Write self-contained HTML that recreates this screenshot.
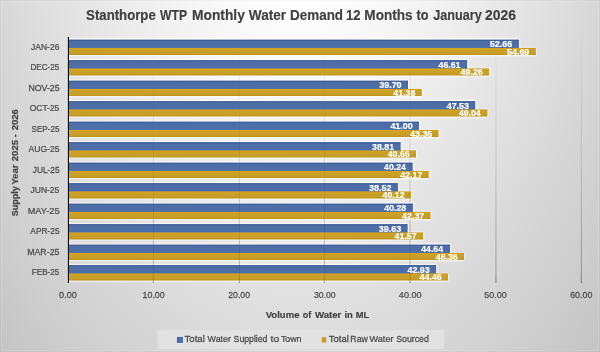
<!DOCTYPE html>
<html><head><meta charset="utf-8"><style>
html,body{margin:0;padding:0;width:600px;height:352px;overflow:hidden;background:#d9d9d9}
svg{display:block;will-change:transform}
text{font-family:"Liberation Sans",sans-serif}
.rg{stroke:#4a4a4a;stroke-width:0.25px}
.bd{stroke:#404040;stroke-width:0.15px}
.dl{stroke:#ffffff;stroke-width:0.2px}
</style></head><body>
<svg width="600" height="352" viewBox="0 0 600 352">
<defs>
<radialGradient id="bg" cx="299" cy="-182" r="600" gradientUnits="userSpaceOnUse" gradientTransform="translate(299 -182) scale(1 1.786) translate(-299 182)">
<stop offset="0" stop-color="#ffffff"/>
<stop offset="0.159" stop-color="#ffffff"/>
<stop offset="1" stop-color="#a5a5a5"/>
</radialGradient>
<linearGradient id="gb" x1="0" y1="0" x2="0" y2="1">
<stop offset="0" stop-color="#3f5e98"/>
<stop offset="0.2" stop-color="#4d6da6"/>
<stop offset="0.75" stop-color="#4e6fa8"/>
<stop offset="1" stop-color="#4670b8"/>
</linearGradient>
<linearGradient id="gg" x1="0" y1="0" x2="0" y2="1">
<stop offset="0" stop-color="#d2a222"/>
<stop offset="0.35" stop-color="#cba026"/>
<stop offset="0.8" stop-color="#c69d28"/>
<stop offset="1" stop-color="#c29822"/>
</linearGradient>
<filter id="glow" x="-5%" y="-50%" width="110%" height="200%">
<feGaussianBlur stdDeviation="1.3"/>
</filter>
<filter id="usm" x="-10" y="-10" width="620" height="372" filterUnits="userSpaceOnUse" color-interpolation-filters="sRGB">
<feGaussianBlur in="SourceGraphic" stdDeviation="1.0" result="b"/>
<feComposite in="SourceGraphic" in2="b" operator="arithmetic" k1="0" k2="1.15" k3="-0.15" k4="0"/>
</filter>
</defs>
<g filter="url(#usm)">
<rect x="-10" y="-10" width="620" height="372" fill="url(#bg)"/>
<defs><linearGradient id="gl" gradientUnits="userSpaceOnUse" x1="0" y1="37.0" x2="0" y2="283.0"><stop offset="0" stop-color="#000" stop-opacity="0.01"/><stop offset="0.5" stop-color="#000" stop-opacity="0.07"/><stop offset="0.95" stop-color="#000" stop-opacity="0.18"/><stop offset="1" stop-color="#000" stop-opacity="0.28"/></linearGradient></defs>
<rect x="152.90" y="37.0" width="1" height="246.0" fill="url(#gl)"/>
<rect x="238.90" y="37.0" width="1" height="246.0" fill="url(#gl)"/>
<rect x="323.90" y="37.0" width="1" height="246.0" fill="url(#gl)"/>
<rect x="409.50" y="37.0" width="1" height="246.0" fill="url(#gl)"/>
<rect x="495.45" y="37.0" width="1" height="246.0" fill="url(#gl)"/>
<rect x="580.83" y="37.0" width="1" height="246.0" fill="url(#gl)"/>
<path d="M68.4 38.60 H519.40 V47.90 H536.30 V56.00 H68.4 Z" fill="#ffffff" opacity="0.7" filter="url(#glow)"/>
<path d="M68.4 59.10 H467.60 V68.40 H489.50 V76.50 H68.4 Z" fill="#ffffff" opacity="0.7" filter="url(#glow)"/>
<path d="M68.4 79.60 H408.50 V88.90 H422.25 V97.00 H68.4 Z" fill="#ffffff" opacity="0.7" filter="url(#glow)"/>
<path d="M68.4 100.10 H475.70 V109.40 H487.90 V117.50 H68.4 Z" fill="#ffffff" opacity="0.7" filter="url(#glow)"/>
<path d="M68.4 120.60 H419.40 V129.90 H439.00 V138.00 H68.4 Z" fill="#ffffff" opacity="0.7" filter="url(#glow)"/>
<path d="M68.4 141.10 H401.15 V150.40 H416.50 V158.50 H68.4 Z" fill="#ffffff" opacity="0.7" filter="url(#glow)"/>
<path d="M68.4 161.60 H413.20 V170.90 H429.20 V179.00 H68.4 Z" fill="#ffffff" opacity="0.7" filter="url(#glow)"/>
<path d="M68.4 182.10 H398.40 V191.40 H411.40 V199.50 H68.4 Z" fill="#ffffff" opacity="0.7" filter="url(#glow)"/>
<path d="M68.4 202.60 H413.40 V211.90 H431.00 V220.00 H68.4 Z" fill="#ffffff" opacity="0.7" filter="url(#glow)"/>
<path d="M68.4 223.10 H408.10 V232.40 H423.50 V240.50 H68.4 Z" fill="#ffffff" opacity="0.7" filter="url(#glow)"/>
<path d="M68.4 243.60 H450.50 V252.90 H464.60 V261.00 H68.4 Z" fill="#ffffff" opacity="0.7" filter="url(#glow)"/>
<path d="M68.4 264.10 H436.60 V273.40 H448.50 V281.50 H68.4 Z" fill="#ffffff" opacity="0.7" filter="url(#glow)"/>
<rect x="68.9" y="39.60" width="450.00" height="9.30" fill="url(#gb)"/>
<rect x="68.9" y="47.90" width="466.90" height="7.10" fill="url(#gg)"/>
<rect x="68.9" y="60.10" width="398.20" height="9.30" fill="url(#gb)"/>
<rect x="68.9" y="68.40" width="420.10" height="7.10" fill="url(#gg)"/>
<rect x="68.9" y="80.60" width="339.10" height="9.30" fill="url(#gb)"/>
<rect x="68.9" y="88.90" width="352.85" height="7.10" fill="url(#gg)"/>
<rect x="68.9" y="101.10" width="406.30" height="9.30" fill="url(#gb)"/>
<rect x="68.9" y="109.40" width="418.50" height="7.10" fill="url(#gg)"/>
<rect x="68.9" y="121.60" width="350.00" height="9.30" fill="url(#gb)"/>
<rect x="68.9" y="129.90" width="369.60" height="7.10" fill="url(#gg)"/>
<rect x="68.9" y="142.10" width="331.75" height="9.30" fill="url(#gb)"/>
<rect x="68.9" y="150.40" width="347.10" height="7.10" fill="url(#gg)"/>
<rect x="68.9" y="162.60" width="343.80" height="9.30" fill="url(#gb)"/>
<rect x="68.9" y="170.90" width="359.80" height="7.10" fill="url(#gg)"/>
<rect x="68.9" y="183.10" width="329.00" height="9.30" fill="url(#gb)"/>
<rect x="68.9" y="191.40" width="342.00" height="7.10" fill="url(#gg)"/>
<rect x="68.9" y="203.60" width="344.00" height="9.30" fill="url(#gb)"/>
<rect x="68.9" y="211.90" width="361.60" height="7.10" fill="url(#gg)"/>
<rect x="68.9" y="224.10" width="338.70" height="9.30" fill="url(#gb)"/>
<rect x="68.9" y="232.40" width="354.10" height="7.10" fill="url(#gg)"/>
<rect x="68.9" y="244.60" width="381.10" height="9.30" fill="url(#gb)"/>
<rect x="68.9" y="252.90" width="395.20" height="7.10" fill="url(#gg)"/>
<rect x="68.9" y="265.10" width="367.20" height="9.30" fill="url(#gb)"/>
<rect x="68.9" y="273.40" width="379.10" height="7.10" fill="url(#gg)"/>
<rect x="152.90" y="37.0" width="1" height="246.0" fill="url(#gl)" opacity="0.6"/>
<rect x="238.90" y="37.0" width="1" height="246.0" fill="url(#gl)" opacity="0.6"/>
<rect x="323.90" y="37.0" width="1" height="246.0" fill="url(#gl)" opacity="0.6"/>
<rect x="409.50" y="37.0" width="1" height="246.0" fill="url(#gl)" opacity="0.6"/>
<rect x="495.45" y="37.0" width="1" height="246.0" fill="url(#gl)" opacity="0.6"/>
<rect x="580.83" y="37.0" width="1" height="246.0" fill="url(#gl)" opacity="0.6"/>
<rect x="67.80" y="37.0" width="1.2" height="246.0" fill="#1e1e1e"/>
<rect x="1.5" y="1.5" width="597" height="349" fill="none" stroke="#fff" stroke-opacity="0.12" stroke-width="1"/>
<rect x="0.5" y="0.5" width="599" height="351" fill="none" stroke="#000" stroke-opacity="0.02" stroke-width="1"/>
<rect x="157.5" y="330" width="286.7" height="19" fill="#e4e4e4" opacity="0.75"/>
<rect x="176.9" y="336.9" width="6" height="6" fill="#4e6fa7"/>
<rect x="321.7" y="337.3" width="4.6" height="5.3" fill="#c9a02a"/>
</g>
<text class="bd" transform="translate(86.11,20.00) scale(0.9394,1)" font-size="14.06" font-weight="bold" fill="#404040">Stanthorpe</text>
<text class="bd" transform="translate(160.12,20.00) scale(0.8625,1)" font-size="14.06" font-weight="bold" fill="#404040">WTP</text>
<text class="bd" transform="translate(191.96,20.00) scale(0.9823,1)" font-size="14.06" font-weight="bold" fill="#404040">Monthly</text>
<text class="bd" transform="translate(248.81,20.00) scale(0.9687,1)" font-size="14.06" font-weight="bold" fill="#404040">Water</text>
<text class="bd" transform="translate(290.10,20.00) scale(0.9552,1)" font-size="14.06" font-weight="bold" fill="#404040">Demand</text>
<text class="bd" transform="translate(345.89,20.00) scale(0.9319,1)" font-size="14.06" font-weight="bold" fill="#404040">12</text>
<text class="bd" transform="translate(364.36,20.00) scale(0.9657,1)" font-size="14.06" font-weight="bold" fill="#404040">Months</text>
<text class="bd" transform="translate(416.55,20.00) scale(0.9059,1)" font-size="14.06" font-weight="bold" fill="#404040">to</text>
<text class="bd" transform="translate(433.14,20.00) scale(0.9033,1)" font-size="14.06" font-weight="bold" fill="#404040">January</text>
<text class="bd" transform="translate(485.11,20.00) scale(0.9893,1)" font-size="14.06" font-weight="bold" fill="#404040">2026</text>
<g transform="translate(18.30,325) rotate(-90)"><text class="bd" transform="translate(108.70,0) scale(0.9629,1)" font-size="9.42" font-weight="bold" fill="#404040">Supply</text></g>
<g transform="translate(18.30,325) rotate(-90)"><text class="bd" transform="translate(140.20,0) scale(1.0255,1)" font-size="9.42" font-weight="bold" fill="#404040">Year</text></g>
<g transform="translate(18.30,325) rotate(-90)"><text class="bd" transform="translate(163.79,0) scale(1.0109,1)" font-size="9.42" font-weight="bold" fill="#404040">2025</text></g>
<g transform="translate(18.30,325) rotate(-90)"><text class="bd" transform="translate(187.75,0) scale(0.9918,1)" font-size="9.42" font-weight="bold" fill="#404040">-</text></g>
<g transform="translate(18.30,325) rotate(-90)"><text class="bd" transform="translate(194.64,0) scale(1.0151,1)" font-size="9.42" font-weight="bold" fill="#404040">2026</text></g>
<text class="rg" transform="translate(31.07,49.70) scale(0.8689,1)" font-size="9.78" font-weight="normal" fill="#4a4a4a">JAN-26</text>
<text class="rg" transform="translate(30.39,70.20) scale(0.8353,1)" font-size="9.78" font-weight="normal" fill="#4a4a4a">DEC-25</text>
<text class="rg" transform="translate(28.38,90.70) scale(0.8979,1)" font-size="9.78" font-weight="normal" fill="#4a4a4a">NOV-25</text>
<text class="rg" transform="translate(29.83,111.20) scale(0.8610,1)" font-size="9.78" font-weight="normal" fill="#4a4a4a">OCT-25</text>
<text class="rg" transform="translate(31.57,131.70) scale(0.8280,1)" font-size="9.78" font-weight="normal" fill="#4a4a4a">SEP-25</text>
<text class="rg" transform="translate(28.61,152.20) scale(0.8740,1)" font-size="9.78" font-weight="normal" fill="#4a4a4a">AUG-25</text>
<text class="rg" transform="translate(32.73,172.70) scale(0.8511,1)" font-size="9.78" font-weight="normal" fill="#4a4a4a">JUL-25</text>
<text class="rg" transform="translate(30.47,193.20) scale(0.8728,1)" font-size="9.78" font-weight="normal" fill="#4a4a4a">JUN-25</text>
<text class="rg" transform="translate(27.65,213.70) scale(0.9475,1)" font-size="9.78" font-weight="normal" fill="#4a4a4a">MAY-25</text>
<text class="rg" transform="translate(30.37,234.20) scale(0.8520,1)" font-size="9.78" font-weight="normal" fill="#4a4a4a">APR-25</text>
<text class="rg" transform="translate(27.14,254.70) scale(0.9012,1)" font-size="9.78" font-weight="normal" fill="#4a4a4a">MAR-25</text>
<text class="rg" transform="translate(31.81,275.20) scale(0.8320,1)" font-size="9.78" font-weight="normal" fill="#4a4a4a">FEB-25</text>
<text class="rg" transform="translate(59.11,298.30) scale(0.9240,1)" font-size="9.86" font-weight="normal" fill="#4a4a4a">0.00</text>
<text class="rg" transform="translate(142.52,298.30) scale(0.9027,1)" font-size="9.86" font-weight="normal" fill="#4a4a4a">10.00</text>
<text class="rg" transform="translate(228.22,298.30) scale(0.8844,1)" font-size="9.86" font-weight="normal" fill="#4a4a4a">20.00</text>
<text class="rg" transform="translate(313.91,298.30) scale(0.8837,1)" font-size="9.86" font-weight="normal" fill="#4a4a4a">30.00</text>
<text class="rg" transform="translate(398.83,298.30) scale(0.9224,1)" font-size="9.86" font-weight="normal" fill="#4a4a4a">40.00</text>
<text class="rg" transform="translate(484.37,298.30) scale(0.9059,1)" font-size="9.86" font-weight="normal" fill="#4a4a4a">50.00</text>
<text class="rg" transform="translate(570.17,298.30) scale(0.9010,1)" font-size="9.86" font-weight="normal" fill="#4a4a4a">60.00</text>
<text class="bd" transform="translate(265.71,318.00) scale(1.0137,1)" font-size="9.42" font-weight="bold" fill="#404040">Volume</text>
<text class="bd" transform="translate(302.71,318.00) scale(0.9554,1)" font-size="9.42" font-weight="bold" fill="#404040">of</text>
<text class="bd" transform="translate(314.89,318.00) scale(1.0267,1)" font-size="9.42" font-weight="bold" fill="#404040">Water</text>
<text class="bd" transform="translate(344.38,318.00) scale(1.0120,1)" font-size="9.42" font-weight="bold" fill="#404040">in</text>
<text class="bd" transform="translate(355.64,318.00) scale(0.9908,1)" font-size="9.42" font-weight="bold" fill="#404040">ML</text>
<text class="rg" transform="translate(184.59,342.00) scale(1.0162,1)" font-size="9.42" font-weight="normal" fill="#4a4a4a">Total</text>
<text class="rg" transform="translate(207.58,342.00) scale(0.9472,1)" font-size="9.42" font-weight="normal" fill="#4a4a4a">Water</text>
<text class="rg" transform="translate(233.62,342.00) scale(0.9240,1)" font-size="9.42" font-weight="normal" fill="#4a4a4a">Supplied</text>
<text class="rg" transform="translate(270.54,342.00) scale(1.1044,1)" font-size="9.42" font-weight="normal" fill="#4a4a4a">to</text>
<text class="rg" transform="translate(280.92,342.00) scale(0.9379,1)" font-size="9.42" font-weight="normal" fill="#4a4a4a">Town</text>
<text class="rg" transform="translate(328.73,342.00) scale(1.0100,1)" font-size="9.42" font-weight="normal" fill="#4a4a4a">Total</text>
<text class="rg" transform="translate(350.31,342.00) scale(0.9314,1)" font-size="9.42" font-weight="normal" fill="#4a4a4a">Raw</text>
<text class="rg" transform="translate(369.49,342.00) scale(0.9709,1)" font-size="9.42" font-weight="normal" fill="#4a4a4a">Water</text>
<text class="rg" transform="translate(396.20,342.00) scale(0.9295,1)" font-size="9.42" font-weight="normal" fill="#4a4a4a">Sourced</text>
<text class="dl" transform="translate(489.87,47.05) scale(0.9157,1)" font-size="9.78" font-weight="bold" fill="#ffffff">52.66</text>
<text class="dl" transform="translate(506.98,54.90) scale(0.9146,1)" font-size="9.78" font-weight="bold" fill="#ffffff">54.69</text>
<text class="dl" transform="translate(438.51,67.55) scale(0.8979,1)" font-size="9.78" font-weight="bold" fill="#ffffff">46.61</text>
<text class="dl" transform="translate(460.58,75.40) scale(0.9087,1)" font-size="9.78" font-weight="bold" fill="#ffffff">49.26</text>
<text class="dl" transform="translate(379.16,88.05) scale(0.9184,1)" font-size="9.78" font-weight="bold" fill="#ffffff">39.70</text>
<text class="dl" transform="translate(393.28,95.90) scale(0.9066,1)" font-size="9.78" font-weight="bold" fill="#ffffff">41.38</text>
<text class="dl" transform="translate(446.73,108.55) scale(0.9037,1)" font-size="9.78" font-weight="bold" fill="#ffffff">47.53</text>
<text class="dl" transform="translate(458.89,116.40) scale(0.8919,1)" font-size="9.78" font-weight="bold" fill="#ffffff">49.04</text>
<text class="dl" transform="translate(390.40,129.05) scale(0.9067,1)" font-size="9.78" font-weight="bold" fill="#ffffff">41.00</text>
<text class="dl" transform="translate(410.07,136.90) scale(0.9097,1)" font-size="9.78" font-weight="bold" fill="#ffffff">43.35</text>
<text class="dl" transform="translate(372.02,149.55) scale(0.9028,1)" font-size="9.78" font-weight="bold" fill="#ffffff">38.81</text>
<text class="dl" transform="translate(387.64,157.40) scale(0.9026,1)" font-size="9.78" font-weight="bold" fill="#ffffff">40.66</text>
<text class="dl" transform="translate(384.05,170.05) scale(0.8904,1)" font-size="9.78" font-weight="bold" fill="#ffffff">40.24</text>
<text class="dl" transform="translate(400.35,177.90) scale(0.8979,1)" font-size="9.78" font-weight="bold" fill="#ffffff">42.17</text>
<text class="dl" transform="translate(369.11,190.55) scale(0.9162,1)" font-size="9.78" font-weight="bold" fill="#ffffff">38.52</text>
<text class="dl" transform="translate(382.49,198.40) scale(0.9063,1)" font-size="9.78" font-weight="bold" fill="#ffffff">40.12</text>
<text class="dl" transform="translate(384.28,211.05) scale(0.8990,1)" font-size="9.78" font-weight="bold" fill="#ffffff">40.28</text>
<text class="dl" transform="translate(402.06,218.90) scale(0.9071,1)" font-size="9.78" font-weight="bold" fill="#ffffff">42.37</text>
<text class="dl" transform="translate(378.69,231.55) scale(0.9237,1)" font-size="9.78" font-weight="bold" fill="#ffffff">39.63</text>
<text class="dl" transform="translate(394.57,239.40) scale(0.9038,1)" font-size="9.78" font-weight="bold" fill="#ffffff">41.57</text>
<text class="dl" transform="translate(421.32,252.05) scale(0.8840,1)" font-size="9.78" font-weight="bold" fill="#ffffff">44.64</text>
<text class="dl" transform="translate(435.83,259.90) scale(0.8959,1)" font-size="9.78" font-weight="bold" fill="#ffffff">46.36</text>
<text class="dl" transform="translate(407.50,272.55) scale(0.9065,1)" font-size="9.78" font-weight="bold" fill="#ffffff">42.93</text>
<text class="dl" transform="translate(419.61,280.40) scale(0.9047,1)" font-size="9.78" font-weight="bold" fill="#ffffff">44.46</text>
</svg></body></html>
